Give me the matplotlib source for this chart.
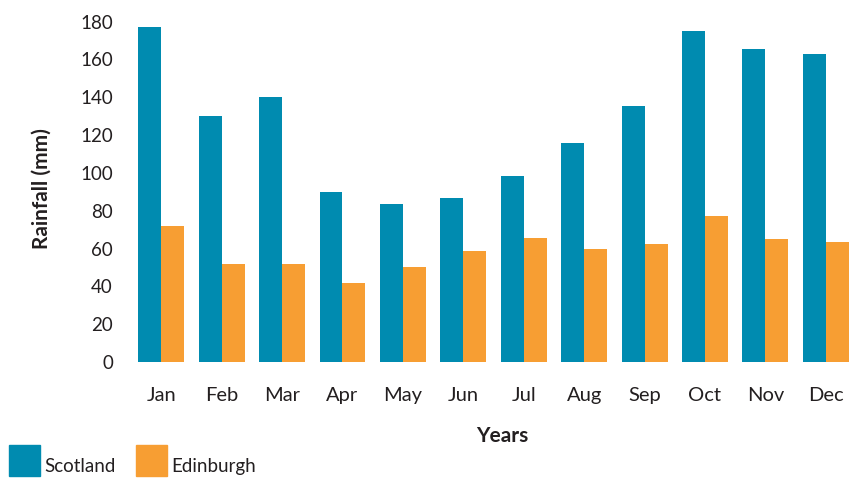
import numpy as np
import matplotlib
matplotlib.use("Agg")
from matplotlib import pyplot as plt
from matplotlib.patches import Rectangle

months = ["Jan", "Feb", "Mar", "Apr", "May", "Jun",
          "Jul", "Aug", "Sep", "Oct", "Nov", "Dec"]
scotland = [177, 130, 140, 90, 83.5, 87, 98.5, 116, 135.5, 175, 165.5, 163]
edinburgh = [72, 52, 52, 42, 50, 58.5, 65.5, 60, 62.5, 77, 65, 63.5]
yticks = [0, 20, 40, 60, 80, 100, 120, 140, 160, 180]

teal = "#008bb0"
orange = "#f79e33"
txt = "#231f20"

plt.rcParams['font.family'] = ['Lato', 'DejaVu Sans']

fig = plt.figure(figsize=(8.5, 4.8), dpi=100)
ax = fig.add_axes([131/850, 118/480, 719/850, 346/480])

x = np.arange(len(months))
w = 0.38
ax.bar(x - w/2, scotland, w, color=teal, label="Scotland")
ax.bar(x + w/2, edinburgh, w, color=orange, label="Edinburgh")

ax.set_xlim(-0.5, 11.4)
ax.set_ylim(0, 183)
ax.set_yticks(yticks)
ax.set_yticklabels([str(v) for v in yticks])
ax.set_xticks(x)
ax.set_xticklabels(months)
for s in ax.spines.values():
    s.set_visible(False)
ax.tick_params(axis="y", length=0, pad=13, labelsize=13.5, labelcolor=txt)
ax.tick_params(axis="x", length=0, pad=18, labelsize=14.5, labelcolor=txt)

ax.set_xlabel("Years", fontsize=15, fontweight="bold", color=txt)
ax.xaxis.set_label_coords(0.516, -0.185)
ax.set_ylabel("Rainfall (mm)", fontsize=15, fontweight="bold", color=txt)
ax.yaxis.set_label_coords(-0.11, 0.5)

# legend drawn by hand at bottom-left
for x0, col, name in [(9, teal, "Scotland"), (136, orange, "Edinburgh")]:
    fig.patches.append(Rectangle((x0/850, 4/480), 31/850, 31/480,
                                 transform=fig.transFigure, color=col))
    fig.text((x0 + 35)/850, 5/480, name, fontsize=13.5, color=txt,
             ha="left", va="bottom")

fig.savefig("out.png", dpi=100)
